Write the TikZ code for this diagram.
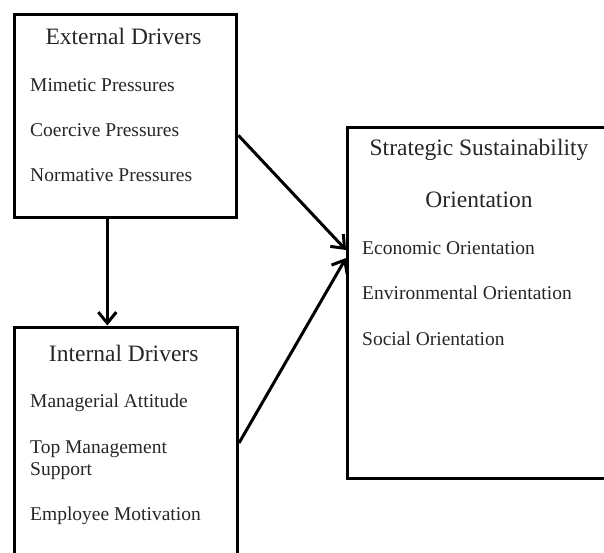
\documentclass[tikz,border=0pt]{standalone}
\usepackage{fontspec}
\setmainfont{Liberation Serif}
\usetikzlibrary{arrows.meta,calc}
\begin{document}
\begin{tikzpicture}[x=1pt,y=-1pt,
  box/.style={draw,line width=3pt,rectangle,inner sep=0pt,anchor=north west},
  title/.style={inner sep=0pt,anchor=base,font=\fontsize{23.5}{28}\selectfont,text=black!85},
  item/.style={inner sep=0pt,anchor=base west,align=left,font=\fontsize{19.5}{22}\selectfont,text=black!85},
  conn/.style={line width=3pt,-{Straight Barb[length=11pt,width=18pt,line width=3pt]}}]
\useasboundingbox (0,0) rectangle (604,553);
\clip (0,0) rectangle (604,553);
% boxes
\node[box,minimum width=222pt,minimum height=203pt] (ext) at (13.3,13.3) {};
\node[box,minimum width=222.7pt,minimum height=260pt] (int) at (13.3,325.5) {};
\node[box,minimum width=266pt,minimum height=351pt] (str) at (346,126) {};
% External
\node[title] (extT) at (123.5,45) {External Drivers};
\node[item] (e1) at (30,91.5) {Mimetic Pressures};
\node[item] (e2) at (30,136.5) {Coercive Pressures};
\node[item] (e3) at (30,181.7) {Normative Pressures};
% Internal
\node[title] (intT) at (123.7,361.7) {Internal Drivers};
\node[item] (i1) at (30,407) {Managerial Attitude};
\node[item] (i2) at (30,475) {Top Management\\Support};
\node[item] (i3) at (30,520.7) {Employee Motivation};
% Strategic
\node[title] (strT1) at (479,156) {Strategic Sustainability};
\node[title] (strT2) at (479,207.3) {Orientation};
\node[item] (s1) at (362,254) {Economic Orientation};
\node[item] (s2) at (362,299.3) {Environmental Orientation};
\node[item] (s3) at (362,345) {Social Orientation};
% connectors
\coordinate (tipA) at ($(str.north west)+(0,124)$);
\coordinate (tipB) at ($(str.north west)+(0,132)$);
\draw[conn] ($(ext.north east)+(0,122)$) -- (tipA);
\draw[conn] ($(int.north east)+(0,117.5)$) -- (tipB);
\draw[conn] ($(ext.south west)+(94,0)$) -- ($(int.north west)+(94,0)$);
\end{tikzpicture}
\end{document}
